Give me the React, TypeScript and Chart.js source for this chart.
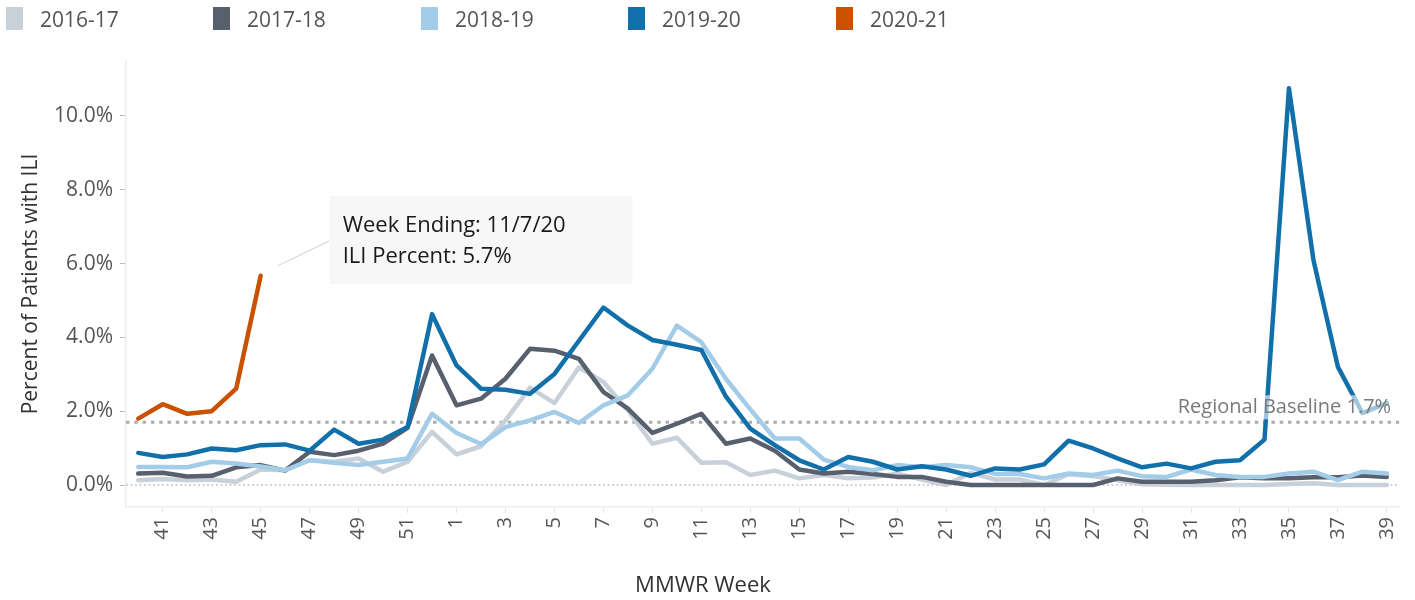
import React, { useEffect, useRef } from 'react';
import { Chart, registerables } from 'chart.js';

Chart.register(...registerables);

// MMWR weeks of the season (week 40 through week 39)
const weeks = [40, 41, 42, 43, 44, 45, 46, 47, 48, 49, 50, 51, 52, 1, 2, 3, 4, 5, 6, 7, 8, 9, 10, 11, 12, 13, 14, 15, 16, 17, 18, 19, 20, 21, 22, 23, 24, 25, 26, 27, 28, 29, 30, 31, 32, 33, 34, 35, 36, 37, 38, 39];
const labeledWeeks = [41, 43, 45, 47, 49, 51, 1, 3, 5, 7, 9, 11, 13, 15, 17, 19, 21, 23, 25, 27, 29, 31, 33, 35, 37, 39];
const yTicks = [0, 2, 4, 6, 8, 10];

const s2016_17 = [0.13, 0.16, 0.13, 0.15, 0.09, 0.42, 0.40, 0.67, 0.63, 0.72, 0.36, 0.63, 1.44, 0.83, 1.05, 1.75, 2.64, 2.22, 3.19, 2.79, 2.02, 1.12, 1.28, 0.60, 0.62, 0.27, 0.39, 0.18, 0.27, 0.18, 0.20, 0.31, 0.15, 0.0, 0.33, 0.15, 0.15, 0.0, 0.29, 0.24, 0.13, 0.02, 0.01, 0.0, 0.0, 0.0, 0.0, 0.03, 0.05, 0.0, 0.0, 0.0];
const s2017_18 = [0.31, 0.33, 0.23, 0.25, 0.48, 0.54, 0.39, 0.90, 0.81, 0.93, 1.12, 1.55, 3.51, 2.16, 2.34, 2.88, 3.69, 3.64, 3.42, 2.52, 2.07, 1.41, 1.66, 1.93, 1.12, 1.26, 0.93, 0.42, 0.31, 0.36, 0.30, 0.22, 0.22, 0.09, 0.0, 0.0, 0.0, 0.0, 0.0, 0.0, 0.18, 0.09, 0.09, 0.09, 0.13, 0.21, 0.18, 0.18, 0.21, 0.21, 0.26, 0.22];
const s2018_19 = [0.49, 0.49, 0.48, 0.63, 0.58, 0.50, 0.40, 0.67, 0.60, 0.54, 0.63, 0.72, 1.93, 1.41, 1.11, 1.57, 1.75, 1.98, 1.68, 2.16, 2.43, 3.15, 4.32, 3.87, 2.88, 2.05, 1.26, 1.26, 0.69, 0.49, 0.40, 0.54, 0.48, 0.54, 0.48, 0.30, 0.30, 0.18, 0.31, 0.27, 0.39, 0.24, 0.22, 0.42, 0.27, 0.22, 0.22, 0.31, 0.36, 0.13, 0.36, 0.31];
const s2019_20 = [0.87, 0.76, 0.83, 0.99, 0.94, 1.08, 1.10, 0.93, 1.50, 1.12, 1.23, 1.57, 4.63, 3.24, 2.61, 2.58, 2.47, 3.01, 3.91, 4.81, 4.32, 3.93, 3.80, 3.66, 2.40, 1.53, 1.08, 0.67, 0.42, 0.76, 0.63, 0.42, 0.51, 0.42, 0.25, 0.45, 0.42, 0.56, 1.20, 0.99, 0.72, 0.48, 0.58, 0.45, 0.63, 0.67, 1.23, 10.75, 6.10, 3.20, 1.95, 2.22];
const s2020_21 = [1.80, 2.19, 1.93, 2.00, 2.61, 5.67];

const seasons = ['2016-17', '2017-18', '2018-19', '2019-20', '2020-21'];
const seasonColors = ['#c8d0d9', '#57606c', '#a3cce9', '#1170aa', '#c85200'];

const baseline = 1.7;
const calloutWeekIndex = 5;
const calloutDate = '11/7/20';

const FONT = '"Open Sans", "Noto Sans", sans-serif';

const refPlugin = {
  id: 'refLines',
  beforeDatasetsDraw(chart: any) {
    const { ctx, chartArea, scales } = chart;
    const y = scales.y;
    ctx.save();
    const y0 = y.getPixelForValue(0);
    ctx.strokeStyle = '#c4c4c4';
    ctx.lineWidth = 1.5;
    ctx.setLineDash([2, 2.5]);
    ctx.beginPath();
    ctx.moveTo(chartArea.left, y0);
    ctx.lineTo(chartArea.right, y0);
    ctx.stroke();
    const yb = y.getPixelForValue(baseline);
    ctx.strokeStyle = '#acacac';
    ctx.lineWidth = 3;
    ctx.setLineDash([3.5, 4.8]);
    ctx.beginPath();
    ctx.moveTo(chartArea.left, yb);
    ctx.lineTo(chartArea.right, yb);
    ctx.stroke();
    ctx.restore();
  },
  afterDatasetsDraw(chart: any) {
    const { ctx, chartArea, scales } = chart;
    const x = scales.x;
    const y = scales.y;
    ctx.save();
    // baseline label
    const yb = y.getPixelForValue(baseline);
    const text = `Regional Baseline ${baseline}%`;
    ctx.font = `20px ${FONT}`;
    const w = ctx.measureText(text).width;
    const xr = chartArea.right - 8;
    const yc = yb - 15;
    ctx.fillStyle = 'rgba(255,255,255,0.6)';
    ctx.fillRect(xr - w - 4, yc - 12, w + 8, 24);
    ctx.fillStyle = '#7a7a7a';
    ctx.textAlign = 'right';
    ctx.textBaseline = 'middle';
    ctx.fillText(text, xr, yc);

    // callout
    const px = x.getPixelForValue(calloutWeekIndex);
    const py = y.getPixelForValue(s2020_21[calloutWeekIndex]);
    ctx.strokeStyle = '#cfcfcf';
    ctx.lineWidth = 1;
    ctx.beginPath();
    ctx.moveTo(px + 17, py - 10);
    ctx.lineTo(px + 69, py - 35);
    ctx.stroke();
    const bx = px + 69;
    const by = py - 80;
    ctx.fillStyle = '#f7f7f7';
    ctx.fillRect(bx, by, 303, 88);
    ctx.fillStyle = '#1a1a1a';
    ctx.textAlign = 'left';
    ctx.font = `22px ${FONT}`;
    ctx.fillText(`Week Ending: ${calloutDate}`, bx + 13, by + 30);
    ctx.fillText(`ILI Percent: ${s2020_21[calloutWeekIndex].toFixed(1)}%`, bx + 13, by + 61);

    ctx.restore();
  },
  afterDraw(chart: any) {
    const { ctx } = chart;
    ctx.save();
    ctx.font = `22px ${FONT}`;
    ctx.fillStyle = '#333';
    ctx.textAlign = 'center';
    ctx.textBaseline = 'middle';
    ctx.fillText('MMWR Week', 703, 586);
    ctx.restore();
  },
};

export default function App() {
  const canvasRef = useRef<HTMLCanvasElement | null>(null);

  useEffect(() => {
    const canvas = canvasRef.current;
    if (!canvas) return;
    const seriesData = [s2016_17, s2017_18, s2018_19, s2019_20, s2020_21];
    // newest season drawn on top (dataset 0 is drawn last)
    const datasets = [4, 3, 2, 1, 0].map((i) => ({
      label: seasons[i],
      data: seriesData[i],
      borderColor: seasonColors[i],
      backgroundColor: seasonColors[i],
      borderWidth: 4.5,
      pointRadius: 0,
      pointHoverRadius: 0,
      borderJoinStyle: 'round' as const,
      borderCapStyle: 'round' as const,
      tension: 0,
      fill: false,
    }));

    const chart = new Chart(canvas, {
      type: 'line',
      data: { labels: weeks.map(String), datasets },
      options: {
        animation: false,
        responsive: false,
        events: [],
        layout: { padding: { top: 61, right: 12, bottom: 0, left: 0 } },
        plugins: { legend: { display: false }, tooltip: { enabled: false } },
        scales: {
          x: {
            type: 'category',
            offset: true,
            afterFit(scale: any) {
              scale.height = 93;
            },
            grid: {
              display: true,
              drawOnChartArea: false,
              drawTicks: true,
              tickLength: 6,
              tickColor: '#e6e6e6',
            },
            border: { display: true, color: '#eeeeee', width: 1.5 },
            ticks: {
              autoSkip: false,
              maxRotation: 90,
              minRotation: 90,
              padding: 4,
              color: '#555',
              font: { family: FONT, size: 20 },
              callback(value: any, index: number) {
                const wk = weeks[index];
                return labeledWeeks.includes(wk) ? String(wk) : null;
              },
            },
            title: { display: false },
          },
          y: {
            type: 'linear',
            min: -0.596,
            max: 11.49,
            afterFit(scale: any) {
              scale.width = 126;
            },
            afterBuildTicks(scale: any) {
              scale.ticks = yTicks.map((v) => ({ value: v }));
            },
            grid: {
              display: true,
              drawOnChartArea: false,
              drawTicks: true,
              tickLength: 6,
              tickColor: '#bdbdbd',
            },
            border: { display: true, color: '#eeeeee', width: 1.5 },
            ticks: {
              padding: 7,
              color: '#555',
              font: { family: FONT, size: 21 },
              callback(value: any) {
                return Number(value).toFixed(1) + '%';
              },
            },
            title: {
              display: true,
              text: 'Percent of Patients with ILI',
              color: '#333',
              font: { family: FONT, size: 21 },
              padding: { top: 18, bottom: 0 },
            },
          },
        },
      },
      plugins: [refPlugin],
    });
    return () => chart.destroy();
  }, []);

  const legendLeft = [6, 213, 421, 628, 836];

  return (
    <div style={{ position: 'absolute', left: 0, top: 0, width: 1415, height: 600, background: '#fff', overflow: 'hidden' }}>
      <canvas ref={canvasRef} width={1415} height={600} style={{ position: 'absolute', left: 0, top: 0 }} />
      {seasons.map((s, i) => (
        <div
          key={s}
          style={{
            position: 'absolute',
            left: legendLeft[i],
            top: 7,
            height: 23,
            display: 'flex',
            alignItems: 'center',
            fontFamily: FONT,
            fontSize: 21,
            color: '#555',
            whiteSpace: 'nowrap',
          }}
        >
          <span style={{ display: 'inline-block', width: 17, height: 23, background: seasonColors[i], marginRight: 17 }} />
          <span>{s}</span>
        </div>
      ))}
    </div>
  );
}
